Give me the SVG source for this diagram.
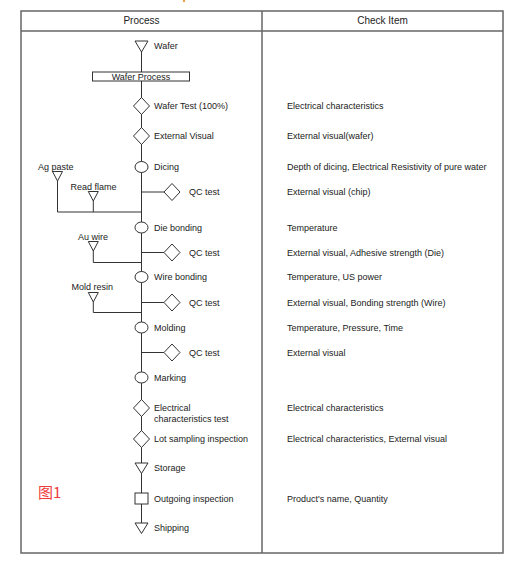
<svg xmlns="http://www.w3.org/2000/svg" width="513" height="563" viewBox="0 0 513 563">
<style>
text{font-family:"Liberation Sans",Arial,sans-serif;font-size:9px;fill:#222}
.hd{font-size:10px;text-anchor:middle}
.sh{fill:#fff;stroke:#333;stroke-width:1}
.ln{fill:none;stroke:#333;stroke-width:1}
.bd{fill:none;stroke:#666;stroke-width:1.5}
</style>
<rect width="513" height="563" fill="#fff"/>
<rect x="183" y="0" width="2" height="2" fill="#f0a040"/>
<g id="table">
<rect class="bd" x="21" y="11" width="482" height="542"/>
<line class="bd" x1="21" y1="31" x2="503" y2="31"/>
<line class="bd" x1="262" y1="11" x2="262" y2="553"/>
<text class="hd" x="141.5" y="24">Process</text>
<text class="hd" x="382.5" y="24">Check Item</text>
</g>
<g id="connectors">
<line class="ln" x1="141.5" y1="46" x2="141.5" y2="528"/>
<polyline class="ln" points="141.5,192 164,192"/>
<polyline class="ln" points="141.5,252.5 164,252.5"/>
<polyline class="ln" points="141.5,302.5 164,302.5"/>
<polyline class="ln" points="141.5,352.5 164,352.5"/>
<polyline class="ln" points="57.5,181 57.5,212 141.5,212"/>
<polyline class="ln" points="93.3,201 93.3,212"/>
<polyline class="ln" points="93.3,251 93.3,262.5 141.5,262.5"/>
<polyline class="ln" points="93.3,302 93.3,312.5 141.5,312.5"/>
</g>
<g id="wafer"><polygon class="sh" points="135,41 148,41 141.5,52"/><text x="154" y="49">Wafer</text></g>
<g id="wafer-process"><rect class="sh" x="92.5" y="72" width="97" height="9"/><text x="141" y="80" text-anchor="middle">Wafer Process</text></g>
<g id="wafer-test"><polygon class="sh" points="141.5,97.5 149.5,106 141.5,114.5 133.5,106"/><text x="154" y="109">Wafer Test (100%)</text></g>
<g id="external-visual"><polygon class="sh" points="141.5,127.5 149.5,136 141.5,144.5 133.5,136"/><text x="154" y="139">External Visual</text></g>
<g id="dicing"><ellipse class="sh" cx="141.5" cy="167" rx="6.5" ry="5.5"/><text x="154" y="170">Dicing</text></g>
<g id="qc1"><polygon class="sh" points="172,183.5 180,192 172,200.5 164,192"/><text x="189" y="195">QC test</text></g>
<g id="ag-paste"><polygon class="sh" points="52.5,171.5 62.5,171.5 57.5,181"/><text x="38" y="170">Ag paste</text></g>
<g id="read-flame"><polygon class="sh" points="88.3,191.5 98.3,191.5 93.3,201"/><text x="70.5" y="190">Read flame</text></g>
<g id="die-bonding"><ellipse class="sh" cx="141.5" cy="227.5" rx="6.5" ry="5.5"/><text x="154" y="230.5">Die bonding</text></g>
<g id="au-wire"><polygon class="sh" points="88.3,241.5 98.3,241.5 93.3,251"/><text x="78" y="240">Au wire</text></g>
<g id="qc2"><polygon class="sh" points="172,244 180,252.5 172,261 164,252.5"/><text x="189" y="255.5">QC test</text></g>
<g id="wire-bonding"><ellipse class="sh" cx="141.5" cy="277" rx="6.5" ry="5.5"/><text x="154" y="280">Wire bonding</text></g>
<g id="mold-resin"><polygon class="sh" points="88.3,292.5 98.3,292.5 93.3,302"/><text x="71.5" y="290">Mold resin</text></g>
<g id="qc3"><polygon class="sh" points="172,294 180,302.5 172,311 164,302.5"/><text x="189" y="305.5">QC test</text></g>
<g id="molding"><ellipse class="sh" cx="141.5" cy="327.5" rx="6.5" ry="5.5"/><text x="154" y="330.5">Molding</text></g>
<g id="qc4"><polygon class="sh" points="172,344 180,352.5 172,361 164,352.5"/><text x="189" y="355.5">QC test</text></g>
<g id="marking"><ellipse class="sh" cx="141.5" cy="377.5" rx="6.5" ry="5.5"/><text x="154" y="380.5">Marking</text></g>
<g id="electrical-test"><polygon class="sh" points="141.5,399.5 149.5,408 141.5,416.5 133.5,408"/><text x="154" y="411">Electrical</text><text x="154" y="422">characteristics test</text></g>
<g id="lot-sampling"><polygon class="sh" points="141.5,430.5 149.5,439 141.5,447.5 133.5,439"/><text x="154" y="442">Lot sampling inspection</text></g>
<g id="storage"><polygon class="sh" points="135,463 148,463 141.5,473.5"/><text x="154" y="471">Storage</text></g>
<g id="outgoing"><rect class="sh" x="135" y="493" width="13" height="11"/><text x="154" y="501.5">Outgoing inspection</text></g>
<g id="shipping"><polygon class="sh" points="135,523 148,523 141.5,533.5"/><text x="154" y="531">Shipping</text></g>
<g id="check-items">
<text x="287" y="109">Electrical characteristics</text>
<text x="287" y="139">External visual(wafer)</text>
<text x="287" y="170">Depth of dicing, Electrical Resistivity of pure water</text>
<text x="287" y="195">External visual (chip)</text>
<text x="287" y="230.5">Temperature</text>
<text x="287" y="255.5">External visual, Adhesive strength (Die)</text>
<text x="287" y="280">Temperature, US power</text>
<text x="287" y="305.5">External visual, Bonding strength (Wire)</text>
<text x="287" y="330.5">Temperature, Pressure, Time</text>
<text x="287" y="355.5">External visual</text>
<text x="287" y="411">Electrical characteristics</text>
<text x="287" y="441.5">Electrical characteristics, External visual</text>
<text x="287" y="501.5">Product's name, Quantity</text>
</g>
<g id="figure-label"><text x="38" y="498" style="font-family:'Noto Sans CJK SC','Liberation Serif',serif;font-size:15px;fill:#f03c3c">图1</text></g>
</svg>
